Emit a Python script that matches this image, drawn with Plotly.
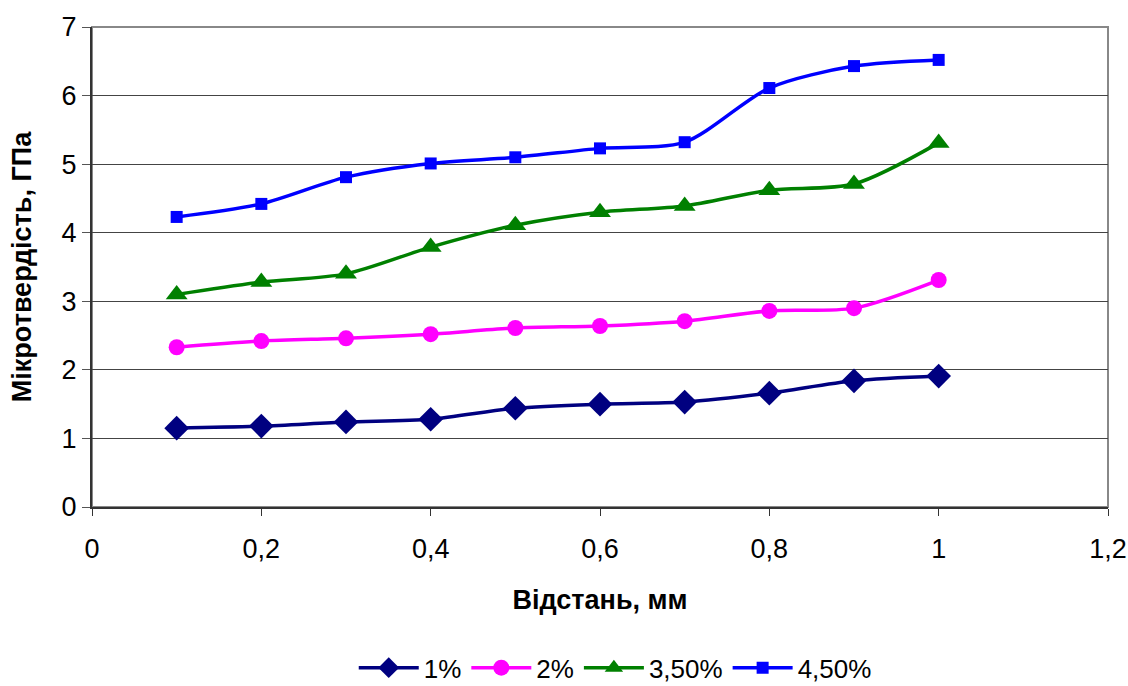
import plotly.graph_objects as go

distance = [0.1, 0.2, 0.3, 0.4, 0.5, 0.6, 0.7, 0.8, 0.9, 1.0]
s1 = [1.15, 1.18, 1.24, 1.28, 1.44, 1.50, 1.53, 1.66, 1.84, 1.91]
s2 = [2.33, 2.42, 2.46, 2.52, 2.61, 2.64, 2.71, 2.86, 2.90, 3.31]
s35 = [3.10, 3.28, 3.40, 3.79, 4.11, 4.30, 4.39, 4.62, 4.71, 5.31]
s45 = [4.23, 4.42, 4.81, 5.01, 5.10, 5.23, 5.32, 6.11, 6.43, 6.52]

series = [
    ("1%", s1, "#000080", "diamond", 19),
    ("2%", s2, "#FF00FF", "circle", 16),
    ("3,50%", s35, "#008000", "triangle-up", 19),
    ("4,50%", s45, "#0000FF", "square", 12),
]

fig = go.Figure()
for name, vals, color, sym, size in series:
    fig.add_trace(go.Scatter(
        x=distance, y=vals, name=name, mode="lines+markers",
        line=dict(color=color, width=3.5, shape="spline", smoothing=0.8),
        marker=dict(symbol=sym, size=size, color=color),
    ))

font = "Liberation Sans, Arial, sans-serif"
fig.update_layout(
    width=1128, height=686,
    margin=dict(l=92, r=20, t=27, b=179, autoexpand=False),
    paper_bgcolor="white", plot_bgcolor="white",
    separators=", ",
    font=dict(family=font, size=26, color="black"),
    showlegend=True,
    legend=dict(orientation="h", x=0.515, xanchor="center", y=-0.335, yanchor="middle",
                font=dict(size=26), itemwidth=60, tracegroupgap=0),
    xaxis=dict(
        range=[0, 1.2], dtick=0.2, tick0=0, tickformat=".1~f",
        showgrid=False, zeroline=False, automargin=False,
        showline=True, linecolor="#333333", linewidth=2,
        ticks="outside", ticklen=7, tickcolor="#333333",
        tickfont=dict(size=27), ticklabelstandoff=10,
        title=dict(text="<b>Відстань, мм</b>", font=dict(size=27), standoff=27),
    ),
    yaxis=dict(
        range=[0, 7], dtick=1, automargin=True,
        showgrid=True, gridcolor="#444444", gridwidth=1,
        zeroline=False,
        showline=True, linecolor="#333333", linewidth=2,
        ticks="outside", ticklen=8, tickcolor="#555555",
        tickfont=dict(size=27),
        title=dict(text="<b>Мікротвердість, ГПа</b>", font=dict(size=27), standoff=22),
    ),
    shapes=[dict(type="rect", xref="paper", yref="paper", x0=0, y0=0, x1=1, y1=1,
                 line=dict(color="#888888", width=2), layer="below")],
)

fig.write_html("out.html")
